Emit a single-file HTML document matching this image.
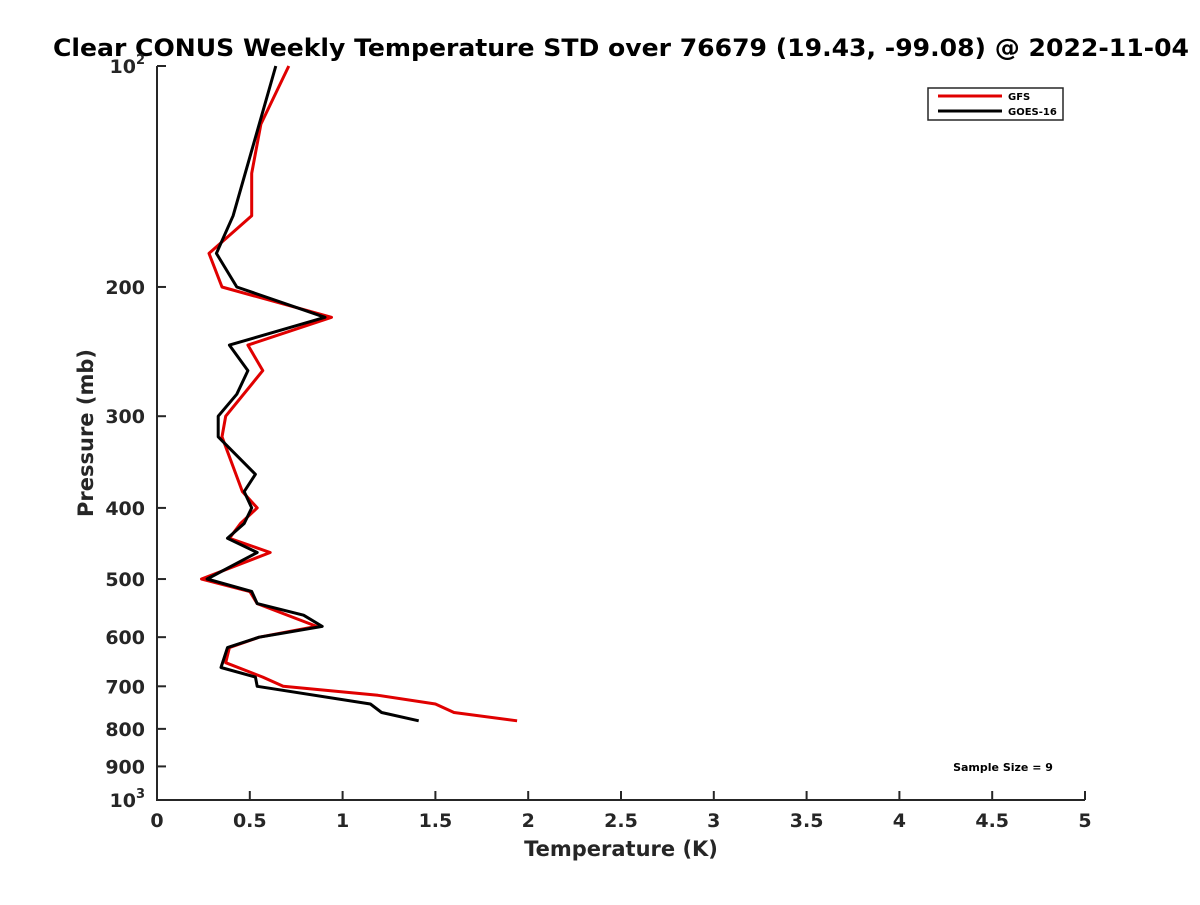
<!DOCTYPE html>
<html><head><meta charset="utf-8"><style>
body{margin:0;background:#fff;}
svg text{font-family:"DejaVu Sans","Liberation Sans",sans-serif;font-weight:bold;fill:#262626;}
</style></head><body>
<svg id="chart" width="1200" height="900" xmlns="http://www.w3.org/2000/svg">
<rect width="1200" height="900" fill="#fff"/>
<text x="53" y="56" font-size="24" textLength="1136" lengthAdjust="spacingAndGlyphs" style="fill:#000">Clear CONUS Weekly Temperature STD over 76679 (19.43, -99.08) @ 2022-11-04</text>
<g id="axes"></g>
<g id="series"></g>
<text x="621" y="856" font-size="21" text-anchor="middle">Temperature (K)</text>
<text transform="translate(93,433) rotate(-90)" font-size="21" text-anchor="middle">Pressure (mb)</text>
<text x="1003" y="771" font-size="11" text-anchor="middle" style="fill:#000">Sample Size = 9</text>
<g>
<rect x="928" y="88" width="135" height="32" fill="#fff" stroke="#262626" stroke-width="1.5"/>
<line x1="938" y1="96" x2="1002" y2="96" stroke="#e00000" stroke-width="3"/>
<text x="1008" y="100" font-size="10" style="fill:#000">GFS</text>
<line x1="938" y1="111" x2="1002" y2="111" stroke="#000" stroke-width="3"/>
<text x="1008" y="115" font-size="10" style="fill:#000">GOES-16</text>
</g>
</svg>
<script>
const xTicks=[0,0.5,1,1.5,2,2.5,3,3.5,4,4.5,5];
const xTickLabels=["0","0.5","1","1.5","2","2.5","3","3.5","4","4.5","5"];
const yTicks=[100,200,300,400,500,600,700,800,900,1000];
const gfsPressure=[100,120,140,160,180,200,220,240,260,300,320,380,400,420,440,460,500,520,540,580,600,620,650,680,700,720,740,760,780];
const gfsTemp=[0.71,0.56,0.51,0.51,0.28,0.35,0.94,0.49,0.57,0.37,0.35,0.46,0.54,0.45,0.39,0.61,0.24,0.50,0.54,0.86,0.55,0.39,0.37,0.57,0.68,1.19,1.50,1.60,1.94];
const goesPressure=[100,160,180,200,220,240,260,280,300,320,360,380,400,420,440,460,500,520,540,560,580,600,620,660,680,700,740,760,780];
const goesTemp=[0.64,0.41,0.32,0.43,0.905,0.39,0.49,0.43,0.33,0.33,0.53,0.47,0.51,0.47,0.38,0.54,0.27,0.51,0.54,0.79,0.89,0.55,0.38,0.345,0.53,0.54,1.15,1.21,1.41];
const X0=157,X1=1085,Y0=66,Y1=800;
const xs=v=>X0+(v-0)/(5-0)*(X1-X0);
const ys=p=>Y0+(Math.log10(p)-2)*(Y1-Y0);
const NS="http://www.w3.org/2000/svg";
function mk(t,a,parent){const e=document.createElementNS(NS,t);for(const k in a)e.setAttribute(k,a[k]);parent.appendChild(e);return e;}
const ax=document.getElementById('axes');
let l=mk('path',{d:`M${X0},${Y0}V${Y1}H${X1}`,fill:'none',stroke:'#262626','stroke-width':2},ax);


xTicks.forEach((v,i)=>{
 const t=mk('line',{x1:xs(v),x2:xs(v),y1:Y1,y2:Y1-9,stroke:'#262626','stroke-width':2},ax);
 
 
 const tx=mk('text',{x:xs(v),y:Y1+27,'font-size':19,'text-anchor':'middle'},ax);
 tx.textContent=xTickLabels[i];
 
 
});
yTicks.forEach(p=>{
 const t=mk('line',{x1:X0,x2:X0+9,y1:ys(p),y2:ys(p),stroke:'#262626','stroke-width':2},ax);
 
 
 const tx=mk('text',{x:X0-12,y:ys(p)+7,'font-size':19,'text-anchor':'end'},ax);
 if(p===100||p===1000){tx.textContent='10';const s=mk('tspan',{dy:-9,'font-size':13},tx);s.textContent=p===100?'2':'3';}
 else tx.textContent=String(p);
 
 
});
const sg=document.getElementById('series');
function line(P,T,c,name){
 const d=P.map((p,i)=>(i?'L':'M')+xs(T[i]).toFixed(1)+','+ys(p).toFixed(1)).join('');
 const e=mk('path',{d:d,fill:'none',stroke:c,'stroke-width':3,'stroke-linejoin':'round'},sg);
 
 
}
line(gfsPressure,gfsTemp,'#e00000','gfs-line');
line(goesPressure,goesTemp,'#000','goes16-line');
</script>
</body></html>
